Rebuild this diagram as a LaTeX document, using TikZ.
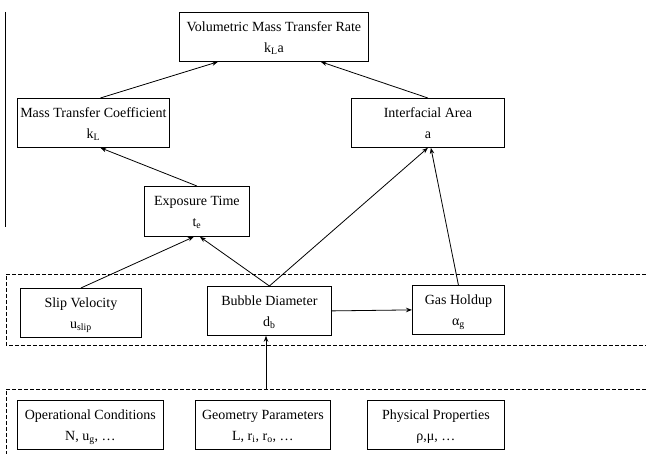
\documentclass[tikz,border=0pt]{standalone}
\usepackage{fontspec}
\setmainfont{Liberation Serif}
\usetikzlibrary{arrows.meta,positioning}

\begin{document}
\begin{tikzpicture}[x=1pt,y=-1pt,line width=0.8pt,
        font=\fontsize{14}{21}\selectfont,
        blk/.style={draw,align=center,anchor=north west,minimum height=49pt,inner sep=0pt,text depth=-1pt},
        link/.style={-{Stealth[length=6pt,width=4.5pt]}},
        group/.style={dash pattern=on 4pt off 2pt}
      ]
  \useasboundingbox (0,0) rectangle (646,454);

  % top levels
  \node   (vmtr) [blk,minimum width=189pt] at (179,12) {Volumetric Mass Transfer Rate\\k\textsubscript{L}a};
  \node   (mtc) [blk,minimum width=152pt] at (17,98) {Mass Transfer Coefficient\\k\textsubscript{L}};
  \node   (ia) [blk,minimum width=153pt] at (351,98) {Interfacial Area\\a};
  \node   (et) [blk,minimum width=105pt,minimum height=50pt] at (144,186) {Exposure Time\\t\textsubscript{e}};
  \draw (5,12) -- (5,227);

  % bubble level
  \node   (sv) [blk,minimum width=121pt] at (20,288) {Slip Velocity\\u\textsubscript{slip}};
  \node   (bd) [blk,minimum width=124pt] at (207,286) {Bubble Diameter\\d\textsubscript{b}};
  \node   (gh) [blk,minimum width=92pt] at (412,285) {Gas Holdup\\α\textsubscript{g}};
  \draw[group] (646,274) -- (6,274) -- (6,345) -- (646,345);

  % inputs
  \node   (oc) [blk,minimum width=146pt] at (17,400) {Operational Conditions\\N, u\textsubscript{g}, …};
  \node   (gp) [blk,minimum width=135pt] at (195,400) {Geometry Parameters\\L, r\textsubscript{i}, r\textsubscript{o}, …};
  \node   (pp) [blk,minimum width=137pt] at (367,400) {Physical Properties\\ρ,μ, …};
  \draw[group] (646,389) -- (6,389) -- (6,454);
  \coordinate (inputs) at (266,389);

  \draw[link] (mtc.north) ++(7,0) -- ([xshift=39pt]vmtr.south west);
  \draw[link] (ia.north) -- ([xshift=-48pt]vmtr.south east);
  \draw[link] (et.north) -- ([xshift=7pt]mtc.south);
  \draw[link] (sv.north) -- ([xshift=-3pt]et.south);
  \draw[link] (bd.north) -- ([xshift=3pt]et.south);
  \draw[link] (bd.north) -- (ia.south);
  \draw[link] (gh.north) -- ([xshift=3pt]ia.south);
  \draw[link] (bd.east) -- (gh.west);
  \draw[link] (inputs) -- (inputs |- bd.south);

\end{tikzpicture}
\end{document}
